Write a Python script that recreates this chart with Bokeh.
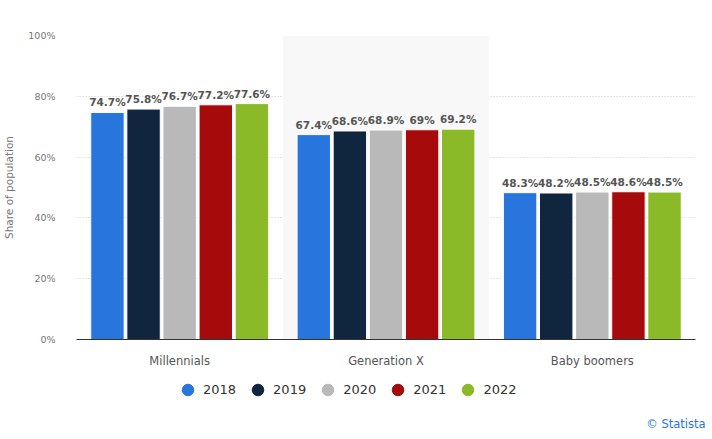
from bokeh.plotting import figure
from bokeh.layouts import column
from bokeh.models import ColumnDataSource, FactorRange, Legend, LegendItem, Title, BoxAnnotation, LabelSet, CustomJSTickFormatter
from bokeh.transform import dodge
from bokeh.embed import file_html
from bokeh.resources import INLINE
from bokeh.core.properties import value

categories = ["Millennials", "Generation X", "Baby boomers"]
years = ["2018", "2019", "2020", "2021", "2022"]
v2018 = [74.7, 67.4, 48.3]
v2019 = [75.8, 68.6, 48.2]
v2020 = [76.7, 68.9, 48.5]
v2021 = [77.2, 69.0, 48.6]
v2022 = [77.6, 69.2, 48.5]
labels2018 = ["74.7%", "67.4%", "48.3%"]
labels2019 = ["75.8%", "68.6%", "48.2%"]
labels2020 = ["76.7%", "68.9%", "48.5%"]
labels2021 = ["77.2%", "69%", "48.6%"]
labels2022 = ["77.6%", "69.2%", "48.5%"]
y_ticks = [0, 20, 40, 60, 80, 100]
colors = ["#2876dd", "#10263f", "#b9b9b9", "#a60a0b", "#8aba28"]

series = [v2018, v2019, v2020, v2021, v2022]
series_labels = [labels2018, labels2019, labels2020, labels2021, labels2022]
offsets = [-0.35, -0.175, 0.0, 0.175, 0.35]

W = 712
H1 = 372
H2 = 67
font = "DejaVu Sans"

p = figure(x_range=FactorRange(*categories, range_padding=0), y_range=(0, 100),
           width=W, height=H1, output_backend="svg", toolbar_location=None,
           min_border_left=76, min_border_right=17, min_border_top=35, min_border_bottom=33)
p.outline_line_color = None
p.background_fill_color = "white"

# highlight band behind Generation X
p.add_layout(BoxAnnotation(left=1, right=2, fill_color="#f8f8f8", fill_alpha=1.0,
                           line_color=None, level="underlay"))

for yr, vals, labs, col, off in zip(years, series, series_labels, colors, offsets):
    src = ColumnDataSource(dict(cat=categories, val=vals, lab=labs))
    p.vbar(x=dodge("cat", off, range=p.x_range), top="val", width=0.162, source=src,
           fill_color=col, line_color="white", line_width=1)
    p.add_layout(LabelSet(x=dodge("cat", off, range=p.x_range), y="val", text="lab", source=src,
                          text_align="center", text_baseline="bottom", y_offset=4,
                          text_font=value(font), text_font_size="10.5px", text_font_style="bold",
                          text_color="#555555"))

# axes
p.yaxis.ticker = y_ticks
p.yaxis.formatter = CustomJSTickFormatter(code="return tick + '%'")
p.yaxis.axis_line_color = None
p.yaxis.major_tick_line_color = None
p.yaxis.minor_tick_line_color = None
p.yaxis.major_label_text_font = font
p.yaxis.major_label_text_font_size = "9.5px"
p.yaxis.major_label_text_color = "#777777"
p.yaxis.major_label_standoff = 15
p.yaxis.axis_label = "Share of population"
p.yaxis.axis_label_text_font = font
p.yaxis.axis_label_text_font_size = "10.5px"
p.yaxis.axis_label_text_font_style = "normal"
p.yaxis.axis_label_text_color = "#777777"
p.yaxis.axis_label_standoff = 10

p.xaxis.axis_line_color = "#333333"
p.xaxis.axis_line_width = 1
p.xaxis.major_tick_line_color = None
p.xaxis.minor_tick_line_color = None
p.xaxis.major_label_text_font = font
p.xaxis.major_label_text_font_size = "11.5px"
p.xaxis.major_label_text_color = "#555555"
p.xaxis.major_label_standoff = 8

p.xgrid.grid_line_color = None
p.ygrid.grid_line_color = "#cccccc"
p.ygrid.grid_line_dash = "1 2"
p.ygrid.grid_line_width = 1

# legend / credits strip
p2 = figure(width=W, height=H2, x_range=(0, 1), y_range=(0, 1), output_backend="svg",
            toolbar_location=None, min_border_left=76, min_border_right=0, min_border_top=0,
            min_border_bottom=25, x_axis_location=None, y_axis_location=None)
p2.outline_line_color = None
p2.grid.visible = False
items = []
for yr, col in zip(years, colors):
    rr = p2.scatter(x=[float("nan")], y=[float("nan")], marker="circle", size=12,
                    fill_color=col, line_color=col)
    items.append(LegendItem(label=yr, renderers=[rr]))
legend = Legend(items=items, orientation="horizontal", location=(97, 10),
                glyph_width=29, glyph_height=29, label_standoff=1, spacing=7,
                padding=0, margin=0, border_line_color=None, background_fill_alpha=0,
                label_text_font=font, label_text_font_size="13px", label_text_color="#333333")
p2.add_layout(legend, "center")
p2.add_layout(Title(text="© Statista", align="right", offset=-10, standoff=0,
                    text_font=font, text_font_size="11.5px", text_font_style="normal",
                    text_color="#2876dd"), "below")

layout = column(p, p2, spacing=0)
open("out.html", "w").write(file_html(layout, INLINE))
